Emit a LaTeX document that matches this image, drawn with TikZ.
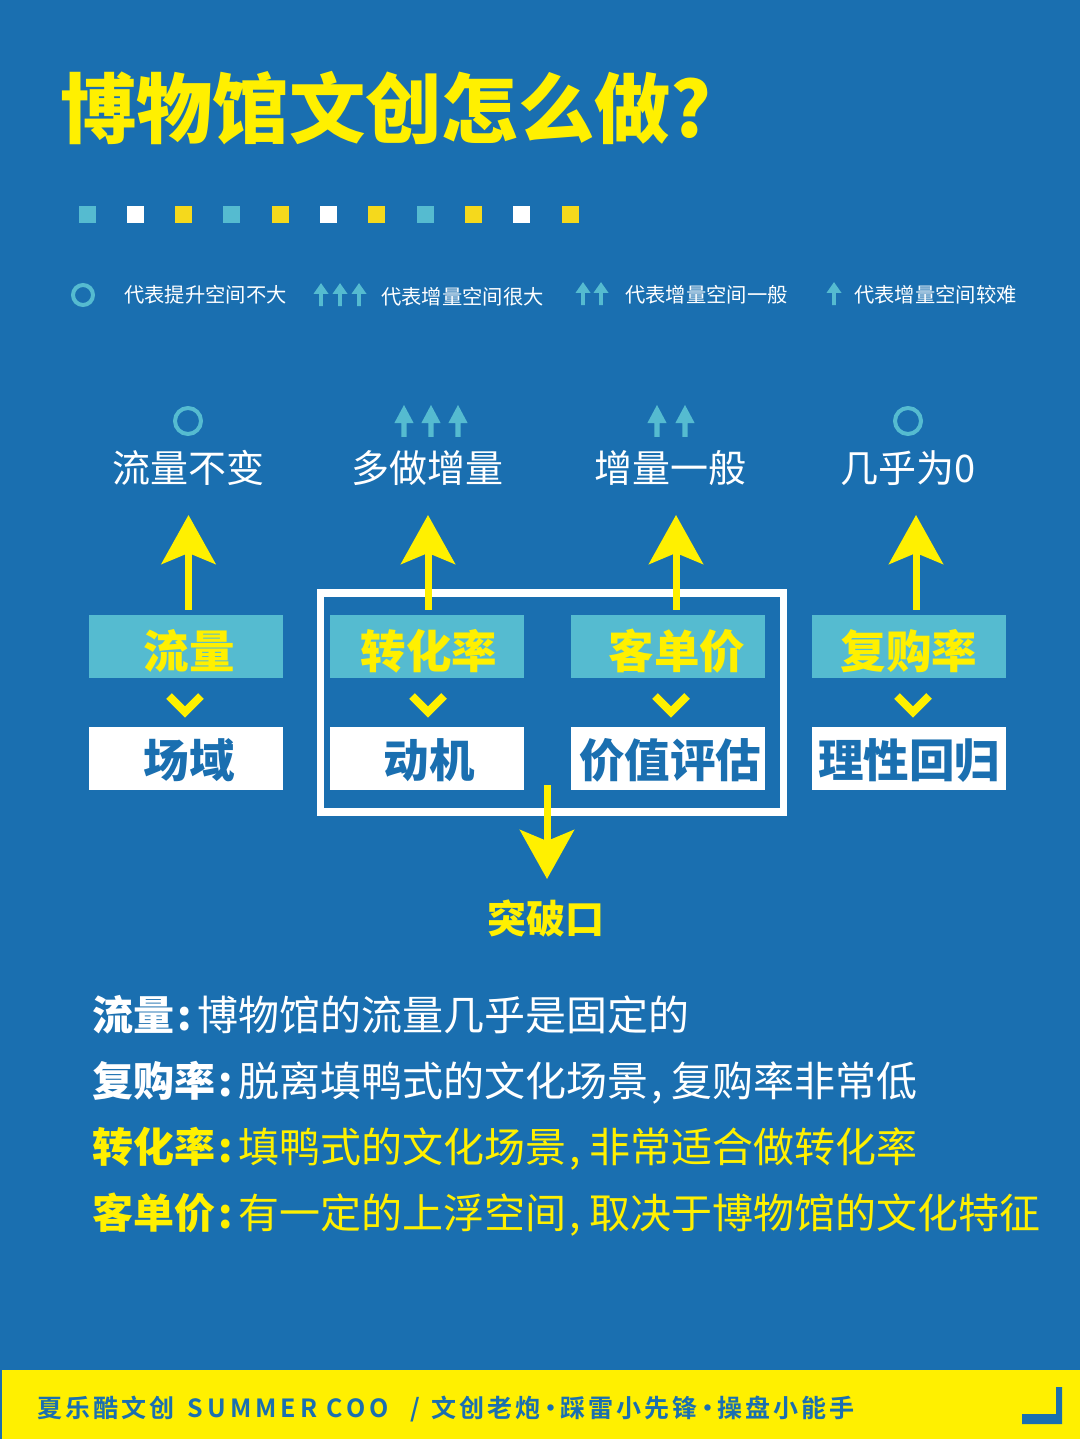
\documentclass[tikz,border=0pt]{standalone}
\usepackage{fontspec}
\usepackage{xcolor}
\usetikzlibrary{arrows.meta, positioning, shapes.arrows}

\setmainfont{Noto Sans CJK SC}
\newfontfamily\heavyfont{Noto Sans CJK SC Black}
\newfontfamily\footfont[LetterSpace=12]{Noto Sans CJK SC Bold}
\newfontfamily\footlatin[LetterSpace=16]{Noto Sans CJK SC Bold}

\definecolor{bgblue}{HTML}{1A6FB0}
\definecolor{signyellow}{HTML}{FFF000}
\definecolor{dotyellow}{HTML}{F5D91C}
\definecolor{tealbox}{HTML}{55BBD0}

\tikzset{
    titletext/.style = {font=\heavyfont\fontsize{76.3}{76.3}\selectfont, text=signyellow, anchor=west, inner sep=0pt},
    dot/.style = {rectangle, minimum size=17pt, inner sep=0pt, node distance=30.9pt},
    legendtext/.style = {font=\fontsize{20.3}{20.3}\selectfont, text=white, anchor=west, inner sep=0pt},
    ring/.style = {circle, draw=tealbox, inner sep=0pt},
    tinyarrow/.style = {single arrow, fill=tealbox, rotate=90, inner sep=1.5pt, minimum height=23pt, minimum width=15pt, single arrow head extend=5pt, single arrow tip angle=70},
    uparrow/.style = {single arrow, fill=tealbox, rotate=90, inner sep=2.5pt, minimum height=32pt, minimum width=19pt, single arrow head extend=7pt, single arrow tip angle=56},
    goaltext/.style = {font=\fontsize{38}{38}\selectfont, text=white, inner sep=0pt},
    topbox/.style = {rectangle, fill=tealbox, text=signyellow, minimum width=194pt, minimum height=63pt, inner sep=0pt, text height=46pt, text depth=3pt, font=\heavyfont\fontsize{45.5}{45.5}\selectfont},
    lowbox/.style = {rectangle, fill=white, text=bgblue, minimum width=194pt, minimum height=63pt, inner sep=0pt, text height=42pt, text depth=4pt, font=\heavyfont\fontsize{45.5}{45.5}\selectfont},
    bigarrow/.style = {-{Stealth[length=49pt, width=54pt, inset=11pt]}, color=signyellow, line width=7pt},
    chevron/.style = {draw=signyellow, line width=8pt},
    bodytext/.style = {font=\fontsize{41}{41}\selectfont, anchor=west, inner sep=0pt, text height=36pt, text depth=5pt},
}

\begin{document}
\begin{tikzpicture}[x=1pt, y=-1pt]
    \useasboundingbox (0,0) rectangle (1080,1439);
    \fill [bgblue] (0,0) rectangle (1080,1439);

    \node (title) [titletext] at (60,108) {博物馆文创怎么做?};

    \node (d1) [dot, fill=tealbox] at (87,215) {};
    \node (d2) [dot, fill=white, right = of d1] {};
    \node (d3) [dot, fill=dotyellow, right = of d2] {};
    \node (d4) [dot, fill=tealbox, right = of d3] {};
    \node (d5) [dot, fill=dotyellow, right = of d4] {};
    \node (d6) [dot, fill=white, right = of d5] {};
    \node (d7) [dot, fill=dotyellow, right = of d6] {};
    \node (d8) [dot, fill=tealbox, right = of d7] {};
    \node (d9) [dot, fill=dotyellow, right = of d8] {};
    \node (d10) [dot, fill=white, right = of d9] {};
    \node (d11) [dot, fill=dotyellow, right = of d10] {};

    \node (keyring) [ring, line width=4pt, minimum size=20pt] at (83,295) {};
    \node (keya) [legendtext] at (124,295) {代表提升空间不大};
    \node (keyb1) [tinyarrow] at (321,296) {};
    \node (keyb2) [tinyarrow] at (340,296) {};
    \node (keyb3) [tinyarrow] at (359,296) {};
    \node (keyb) [legendtext] at (381,297) {代表增量空间很大};
    \node (keyc1) [tinyarrow] at (583,295) {};
    \node (keyc2) [tinyarrow] at (601,295) {};
    \node (keyc) [legendtext] at (625,295) {代表增量空间一般};
    \node (keyd1) [tinyarrow] at (834,295) {};
    \node (keyd) [legendtext] at (854,295) {代表增量空间较难};

    \node (flowring) [ring, line width=4pt, minimum size=26pt] at (188,421) {};
    \node (moreup1) [uparrow] at (404,423.5) {};
    \node (moreup2) [uparrow] at (431,423.5) {};
    \node (moreup3) [uparrow] at (458,423.5) {};
    \node (avgup1) [uparrow] at (657,423.5) {};
    \node (avgup2) [uparrow] at (685,423.5) {};
    \node (zeroring) [ring, line width=4pt, minimum size=26pt] at (908,421) {};

    \node (flowgoal) [goaltext] at (188,468) {流量不变};
    \node (convgoal) [goaltext] at (427,468) {多做增量};
    \node (pricegoal) [goaltext] at (670,468) {增量一般};
    \node (rebuygoal) [goaltext] at (908,468) {几乎为0};

    \node (flow) [topbox] at (186,646.5) {\hspace{6pt}流量};
    \node (conv) [topbox, right = 46.6pt of flow] {\hspace{4pt}转化率};
    \node (price) [topbox, right = 46.6pt of conv] {\hspace{18pt}客单价};
    \node (rebuy) [topbox, right = 46.6pt of price] {复购率};
    \node (field) [lowbox, below = 49pt of flow] {\hspace{6pt}场域};
    \node (motive) [lowbox, below = 49pt of conv] {\hspace{4pt}动机};
    \node (value) [lowbox, below = 49pt of price] {\hspace{4pt}价值评估};
    \node (reason) [lowbox, below = 49pt of rebuy] {理性回归};

    \node (frame) [draw=white, line width=7.5pt, minimum width=463pt, minimum height=219pt, inner sep=0pt] at (552,702.5) {};

    \coordinate (flowtip) at (188.5,515);
    \coordinate (convtip) at (428,515);
    \coordinate (pricetip) at (676,515);
    \coordinate (rebuytip) at (916,515);
    \coordinate (breakbase) at (547,785);
    \coordinate (breaktip) at (547,879);
    \path [bigarrow]
        (flowtip |- flow.north) edge[shorten <=5pt] (flowtip)
        (convtip |- conv.north) edge[shorten <=5pt] (convtip)
        (pricetip |- price.north) edge[shorten <=5pt] (pricetip)
        (rebuytip |- rebuy.north) edge[shorten <=5pt] (rebuytip)
        (breakbase) edge (breaktip);

    \draw [chevron] (169,696) -- (185,712) -- (201,696);
    \draw [chevron] (412,696) -- (428,712) -- (444,696);
    \draw [chevron] (655,696) -- (671,712) -- (687,696);
    \draw [chevron] (897,696) -- (913,712) -- (929,696);

    \node (breakout) [font=\heavyfont\fontsize{39}{39}\selectfont, text=signyellow, inner sep=0pt] at (546,918) {突破口};

    \node (line1) [bodytext, text=white] at (92,1015) {{\heavyfont 流量\hspace{3pt}:}\hspace{6pt}博物馆的流量几乎是固定的};
    \node (line2) [bodytext, text=white] at (92,1081) {{\heavyfont 复购率\hspace{3pt}:}\hspace{6pt}脱离填鸭式的文化场景\hspace{3pt},\hspace{9pt}复购率非常低};
    \node (line3) [bodytext, text=signyellow] at (92,1147) {{\heavyfont 转化率\hspace{3pt}:}\hspace{6pt}填鸭式的文化场景\hspace{3pt},\hspace{9pt}非常适合做转化率};
    \node (line4) [bodytext, text=signyellow] at (92,1213) {{\heavyfont 客单价\hspace{3pt}:}\hspace{6pt}有一定的上浮空间\hspace{3pt},\hspace{9pt}取决于博物馆的文化特征};

    \fill [signyellow] (2,1370) rectangle (1080,1439);
    \node (footer) [font=\footfont\fontsize{25}{25}\selectfont, text=bgblue, anchor=west, inner sep=0pt] at (37,1409) {夏乐酷文创\hspace{5pt} {\footlatin SUMMER COO}\ \ \hspace{4pt}/ \hspace{3pt}文创老炮\hspace{-2.5pt}·\hspace{-2.5pt}踩雷小先锋\hspace{-2.5pt}·\hspace{-2.5pt}操盘小能手};
    \fill [bgblue] (1056,1387) -- (1062,1387) -- (1062,1424) -- (1022,1424) -- (1022,1414) -- (1056,1414) -- cycle;
\end{tikzpicture}
\end{document}
